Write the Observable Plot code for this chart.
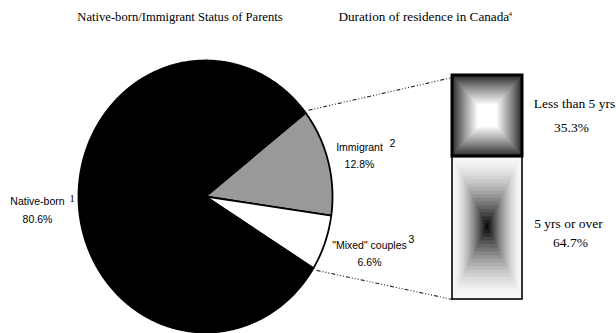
<!DOCTYPE html>
<html>
<head>
<meta charset="utf-8">
<script src="https://cdn.jsdelivr.net/npm/d3@7"></script>
<script src="https://cdn.jsdelivr.net/npm/@observablehq/plot@0.6"></script>
<style>
  html, body { margin: 0; padding: 0; background: #fff; }
</style>
</head>
<body>
<div id="chart"></div>
<script>
// ---------------- data ----------------
const parentCategories = ["Immigrant", "\"Mixed\" couples", "Native-born"];
const parentShares = [12.8, 6.6, 80.6];
const parentNotes = ["2", "3", "1"];
const durationCategories = ["Less than 5 yrs", "5 yrs or over"];
const durationShares = [35.3, 64.7];
const chartTitles = ["Native-born/Immigrant Status of Parents", "Duration of residence in Canada"];
const titleNote = "4";

// ---------------- layout & style ----------------
const W = 616, H = 333;
const PIE = {cx: 205, cy: 196, rx: 127, ry: 136, start: 52};
const BOX = {x0: 452, x1: 522, y0: 75, y1: 299};
const sliceFill = ["#999999", "#ffffff", "#000000"];
const SERIF = "'Liberation Serif', 'Times New Roman', serif";
const SANS = "'Liberation Sans', Arial, sans-serif";

// label anchors (pixel layout)
const parentLabelPos = [
  {x: 359, y: 150, nx: 389, ny: 146, py: 167, px: 359, nf: SANS},
  {x: 369, y: 248, nx: 408, ny: 242, py: 265, px: 369, nf: SANS},
  {x: 37,  y: 204, nx: 69,  ny: 201, py: 222, px: 37, nf: SERIF}
];
const durationLabelPos = [
  {x: 574, y: 107, px: 571, py: 131},
  {x: 568, y: 227, px: 570, py: 246}
];

// ---------------- pie geometry from data ----------------
const arcs = d3.pie().sort(null).value(d => d)
  .startAngle(PIE.start * Math.PI / 180)
  .endAngle(PIE.start * Math.PI / 180 + 2 * Math.PI)(parentShares);

const pt = (a, k = 1) => ({x: PIE.cx + k * PIE.rx * Math.sin(a), y: PIE.cy - k * PIE.ry * Math.cos(a)});

const slices = arcs.map((a, i) => {
  const pts = [{x: PIE.cx, y: PIE.cy}];
  const n = Math.max(8, Math.ceil((a.endAngle - a.startAngle) / 0.01));
  for (let j = 0; j <= n; j++) pts.push(pt(a.startAngle + (a.endAngle - a.startAngle) * j / n));
  pts.push({x: PIE.cx, y: PIE.cy});
  return {points: pts, fill: sliceFill[i]};
});

// stacked duration bar
let cum = 0;
const durRows = durationShares.map((v, i) => {
  const r = {label: durationCategories[i], value: v, c0: cum, c1: cum + v};
  cum += v;
  return r;
});
const yBox = c => BOX.y0 + (BOX.y1 - BOX.y0) * c / 100;

// connectors: from the edges of the non-native wedge to the box corners
const aTop = arcs[0].startAngle, aBot = arcs[1].endAngle;
const connectors = [
  {...pt(aTop, 1.03), x2: BOX.x0, y2: BOX.y0 + 2},
  {...pt(aBot, 1.03), x2: BOX.x0, y2: BOX.y1}
];

const marks = [];
// connectors
marks.push(Plot.link(connectors, {
  x1: "x", y1: "y", x2: "x2", y2: "y2",
  stroke: "#222", strokeWidth: 1.1, strokeDasharray: "4,2,1,2,1,2,1,2"
}));
// slices
slices.forEach(s => marks.push(Plot.line(s.points, {
  x: "x", y: "y", fill: s.fill, stroke: "#000", strokeWidth: 1.8, strokeLinejoin: "round"
})));
// duration boxes
marks.push(Plot.rect([durRows[1]], {
  x1: () => BOX.x0, x2: () => BOX.x1, y1: d => yBox(d.c0), y2: d => yBox(d.c1),
  fill: "url(#gradLong)", stroke: "#000", strokeWidth: 1.6
}));
marks.push(Plot.rect([durRows[0]], {
  x1: () => BOX.x0, x2: () => BOX.x1, y1: d => yBox(d.c0), y2: d => yBox(d.c1) + 2,
  fill: "url(#gradShort)", stroke: "#000", strokeWidth: 3
}));

// titles
marks.push(Plot.text([chartTitles[0]], {x: () => 179.5, y: () => 20, text: d => d, textAnchor: "middle", lineAnchor: "bottom", fontFamily: SERIF, fontSize: 12.6, fill: "#000"}));
marks.push(Plot.text([chartTitles[1]], {x: () => 338, y: () => 20, text: d => d, textAnchor: "start", lineAnchor: "bottom", fontFamily: SERIF, fontSize: 13.2, fill: "#000"}));
marks.push(Plot.text([titleNote], {x: () => 508, y: () => 15, text: d => d, textAnchor: "start", lineAnchor: "bottom", fontFamily: SERIF, fontSize: 7, fill: "#000"}));

// pie labels
parentCategories.forEach((c, i) => {
  const p = parentLabelPos[i];
  marks.push(Plot.text([c], {x: () => p.x, y: () => p.y, text: d => d, textAnchor: "middle", lineAnchor: "bottom", fontFamily: SANS, fontSize: 10.5, fill: "#000"}));
  marks.push(Plot.text([parentNotes[i]], {x: () => p.nx, y: () => p.ny, text: d => d, textAnchor: "start", lineAnchor: "bottom", fontFamily: p.nf, fontSize: 10.5, fill: "#000"}));
  marks.push(Plot.text([parentShares[i]], {x: () => p.px, y: () => p.py, text: d => d.toFixed(1) + "%", textAnchor: "middle", lineAnchor: "bottom", fontFamily: SANS, fontSize: 10.5, fill: "#000"}));
});
// duration labels
durRows.forEach((r, i) => {
  const p = durationLabelPos[i];
  marks.push(Plot.text([r], {x: () => p.x, y: () => p.y, text: d => d.label, textAnchor: "middle", lineAnchor: "bottom", fontFamily: SERIF, fontSize: 13.5, fill: "#000"}));
  marks.push(Plot.text([r], {x: () => p.px, y: () => p.py, text: d => d.value.toFixed(1) + "%", textAnchor: "middle", lineAnchor: "bottom", fontFamily: SERIF, fontSize: 13.5, fill: "#000"}));
});

const svg = Plot.plot({
  width: W, height: H,
  margin: 0,
  x: {domain: [0, W], range: [0, W], axis: null},
  y: {domain: [0, H], range: [0, H], axis: null},
  style: {background: "#fff", overflow: "visible"},
  marks
});

// rectangular ("box") gradients as patterns in bounding-box units
const defs = d3.select(svg).insert("defs", ":first-child");
function boxGradient(id, outer, inner, innerFrac, gamma) {
  const n = 20;
  const p = defs.append("pattern").attr("id", id)
    .attr("patternUnits", "objectBoundingBox")
    .attr("patternContentUnits", "objectBoundingBox")
    .attr("width", 1).attr("height", 1);
  const interp = d3.interpolateRgb(outer, inner);
  for (let i = 0; i < n; i++) {
    const t = i / (n - 1);
    const inset = t * (1 - innerFrac) / 2;
    p.append("rect").attr("x", inset).attr("y", inset)
      .attr("width", 1 - 2 * inset).attr("height", 1 - 2 * inset)
      .attr("fill", interp(Math.pow(t, gamma)));
  }
}
boxGradient("gradShort", "#2a2a2a", "#ffffff", 0.28, 0.9);
boxGradient("gradLong", "#f8f8f8", "#0a0a0a", 0.04, 1.6);

document.getElementById("chart").appendChild(svg);
</script>
</body>
</html>
